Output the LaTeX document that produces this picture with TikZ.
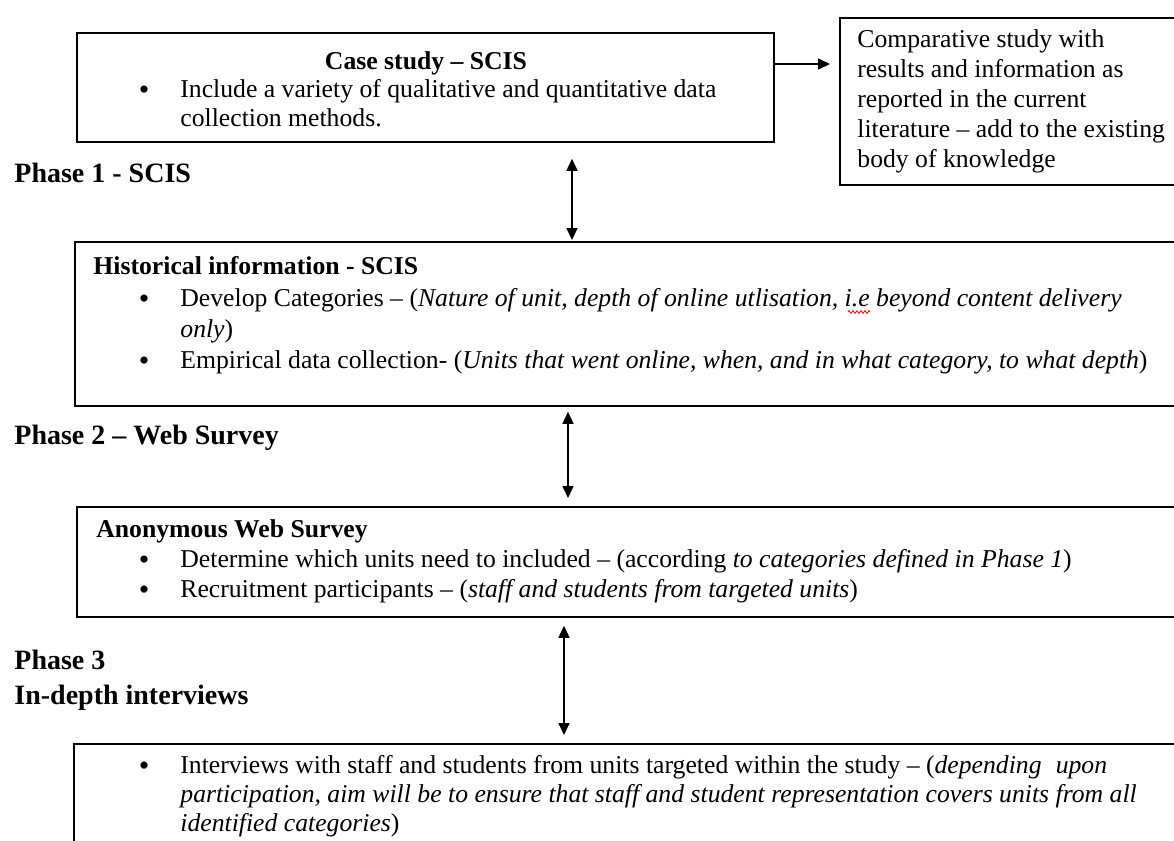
\documentclass[tikz,border=0pt]{standalone}
\usepackage{fontspec}
\setmainfont{Liberation Serif}
\usepackage{tikz}
\usetikzlibrary{arrows.meta,decorations.pathmorphing}

\newcommand{\bul}{\llap{\raisebox{-1pt}{\fontsize{15}{15}\selectfont\textbullet}\hspace{15.5pt}}}

\begin{document}
\begin{tikzpicture}[
x=0.5pt, y=-0.5pt,
font=\fontsize{12.85}{14.5}\selectfont,
box/.style={draw, line width=0.9pt, inner sep=0pt, anchor=north west},
twoway/.style={line width=0.8pt,<->,>={Triangle[length=6pt,width=5.5pt]}},
oneway/.style={line width=0.8pt,->,>={Triangle[length=6pt,width=5.5pt]}},
phase/.style={anchor=base west, inner sep=0pt, font=\fontsize{14}{17.5}\selectfont\bfseries, align=left},
body/.style={anchor=base west, inner sep=0pt, align=left}
]
\useasboundingbox (0,0) rectangle (1174,841);
\clip (0,0) rectangle (1174,841);

% Boxes
\node[box, minimum width=348.5pt, minimum height=54.5pt] (case) at (76,32) {};
\node[box, minimum width=175.5pt, minimum height=83.5pt] (comp) at (839,17) {};
\node[box, minimum width=558pt, minimum height=82pt] (hist) at (74,241) {};
\node[box, minimum width=557pt, minimum height=55pt] (anon) at (76,506) {};
\node[box, minimum width=558.5pt, minimum height=60pt] (intv) at (73,743) {};

% Phase labels (base = last line)
\node[phase] (ph1) at (14,182) {Phase 1 - SCIS};
\node[phase] (ph2) at (14,444) {Phase 2 – Web Survey};
\node[phase] (ph3) at (14,704) {Phase 3\\In-depth interviews};

% Case study
\node[anchor=base, inner sep=0pt] (casetitle) at (426,69) {\textbf{Case study – SCIS}};
\node[body, font=\fontsize{12.85}{14.25}\selectfont] (casetext) at (180,126)
{\bul Include a variety of qualitative and quantitative data\\collection methods.};

% Comparative study
\node[body, font=\fontsize{12.85}{14.9}\selectfont] (comptext) at (857,167)
{Comparative study with\\results and information as\\reported in the current\\literature – add to the existing\\body of knowledge};

% Historical information
\node[body] (histtitle) at (93,274) {\textbf{Historical information - SCIS}};
\node[body, font=\fontsize{12.85}{15.5}\selectfont] (histtext) at (180,368)
{\bul Develop Categories – (\textit{Nature of unit, depth of online utlisation, i.e beyond content delivery}\\
\textit{only})\\
\bul Empirical data collection- (\textit{Units that went online, when, and in what category, to what depth})};
\draw[red, line width=0.4pt, decorate, decoration={zigzag, amplitude=0.7pt, segment length=2pt}]
(848,312) -- (870,312);

% Web survey
\node[body] (anontitle) at (96,537) {\textbf{Anonymous Web Survey}};
\node[body, font=\fontsize{12.85}{15}\selectfont] (anontext) at (180,597)
{\bul Determine which units need to included – (according \textit{to categories defined in Phase 1})\\
\bul Recruitment participants – (\textit{staff and students from targeted units})};

% Interviews
\node[body, font=\fontsize{12.85}{14.3}\selectfont] (intvtext) at (180,831)
{\bul Interviews with staff and students from units targeted within the study – (\textit{depending\hspace{0.3em} upon}\\
\textit{participation, aim will be to ensure that staff and student representation covers units from all}\\
\textit{identified categories})};

% Connectors
\coordinate (r1) at (0,64);
\coordinate (a1) at (572,0);
\coordinate (a2) at (568,0);
\coordinate (a3) at (564,0);
\draw[oneway, shorten >=4.5pt] (case.east |- r1) -- (comp.west |- r1);
\draw[twoway, shorten <=8pt, shorten >=0.5pt] (case.south -| a1) -- (hist.north -| a1);
\draw[twoway, shorten <=2.5pt, shorten >=4pt] (hist.south -| a2) -- (anon.north -| a2);
\draw[twoway, shorten <=4pt, shorten >=4pt] (anon.south -| a3) -- (intv.north -| a3);
\end{tikzpicture}
\end{document}
